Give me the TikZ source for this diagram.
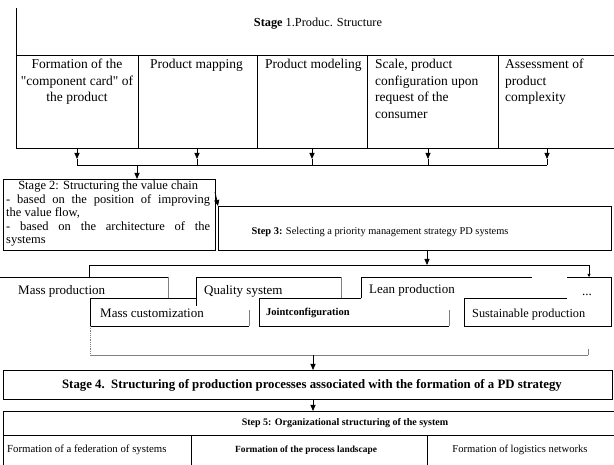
\documentclass[tikz,border=0pt]{standalone}
\usepackage{fontspec}
\setmainfont{Liberation Serif}
\usetikzlibrary{arrows.meta,calc}
\begin{document}
\begin{tikzpicture}[x=1pt,y=-1pt,
  ln/.style={draw=black,line width=0.8pt},
  gl/.style={draw=black!50,line width=0.8pt},
  arr/.style={draw=black,line width=0.8pt,-{Triangle[length=6pt,width=5pt]}},
  boxn/.style={draw=black,line width=0.8pt,inner sep=0pt,anchor=north west},
  big/.style={inner sep=0pt,font=\fontsize{13.5}{16.5}\selectfont},
  mid/.style={inner sep=0pt,font=\fontsize{13}{15}\selectfont},
  sml/.style={inner sep=0pt,font=\fontsize{10.5}{12}\selectfont},
]
\useasboundingbox (0,0) rectangle (614,465);

% ---------- Stage 1 ----------
\coordinate (s1top) at (16,8);
\node[boxn,minimum width=122pt,minimum height=93pt] (c1) at (16,55) {};
\node[boxn,minimum width=119pt,minimum height=93pt] (c2) at (138,55) {};
\node[boxn,minimum width=110pt,minimum height=93pt] (c3) at (257,55) {};
\node[boxn,minimum width=131pt,minimum height=93pt] (c4) at (367,55) {};
\node[boxn,minimum width=116pt,minimum height=93pt] (c5) at (498,55) {};
\draw[ln] (s1top) -- (c1.north west);
\node[inner sep=0pt,font=\fontsize{12.3}{14}\selectfont] (h1) at (318,24) {\textbf{Stage} 1.Produc. Structure};

\node[big,anchor=north,align=center] (t1) at (77,59) {Formation of the\\\textquotedbl component card\textquotedbl{} of\\the product};
\node[big,anchor=north west,align=left] (t2) at (150,59) {Product mapping};
\node[big,anchor=north west,align=left] (t3) at (265,59) {Product modeling};
\node[big,anchor=north west,align=left] (t4) at (375,59) {Scale, product\\configuration upon\\request of the\\consumer};
\node[big,anchor=north west,align=left] (t5) at (505,59) {Assessment of\\product\\complexity};

% arrows to bus 1
\foreach \i/\x in {1/77,2/197,3/312,4/428,5/547}{
  \coordinate (a\i) at (\x,148);
  \coordinate (m\i) at (\x,159);
  \coordinate (b\i) at (\x,165);
  \draw[arr] (a\i) -- (m\i);
  \draw[ln] (m\i) -- (b\i);
}
\draw[ln] (b1) -- (b5);

% ---------- Stage 2 ----------
\node[boxn,minimum width=212pt,minimum height=71pt] (s2) at (3,179) {};
\coordinate (bs2) at (137,165);
\draw[arr] (bs2) -- (s2.north -| bs2);
\node[inner sep=0pt,anchor=north west,text width=204pt,align=justify,
      font=\fontsize{12.5}{13.4}\selectfont] (s2t) at (6,181)
 {\makebox[204pt][c]{Stage 2: Structuring the value chain}\\
  - based on the position of improving\linebreak the value flow,\\
  - based on the architecture of the\linebreak systems};

% ---------- Step 3 ----------
\node[boxn,minimum width=393pt,minimum height=44pt] (s3) at (218,206) {};
\node[inner sep=0pt,font=\fontsize{10.4}{12}\selectfont] (s3t) at (380,232)
 {\textbf{Step 3:} Selecting a priority management strategy PD systems};
\coordinate (s2c) at (215,192);
\draw[arr] (s2c) -- (s3.north west);

% ---------- strategies ----------
\coordinate (s3b) at (427,250);
\coordinate (sb) at (427,265);
\draw[arr] (s3b) -- (sb);
\coordinate (sbl) at (89,265);
\coordinate (sbr) at (589,265);
\coordinate (sbld) at (89,277);
\coordinate (sbrd) at (589,277);
\draw[ln] (sbld) -- (sbl) -- (sbr);
\draw[draw=black,line width=0.6pt,-{Triangle[length=3pt,width=3pt]}] (sbr) -- (sbrd);

% Mass production
\draw[ln] (0,277) -- (168,277);
\draw[gl] (168,277) -- (168,298);
\node[mid,anchor=base west] (mp) at (18,295) {Mass production};
% Quality system
\draw[ln] (196,306) -- (196,277) -- (341,277);
\draw[gl] (341,277) -- (341,298);
\node[mid,anchor=base west] (qs) at (204,295) {Quality system};
% Mass customization
\draw[ln] (196,298) -- (90,298) -- (90,326) -- (249,326);
\draw[gl] (249,326) -- (249,310);
\node[mid,anchor=base west] (mc) at (100,318) {Mass customization};
% Joint configuration
\draw[ln] (361,298) -- (259,298) -- (259,326) -- (449,326);
\draw[gl] (449,326) -- (449,310);
\node[inner sep=0pt,font=\fontsize{10.5}{12}\bfseries\selectfont,anchor=base west] (jc) at (266,316) {Jointconfiguration};
% Lean production
\draw[ln] (361,298) -- (361,277) -- (532,277);
\node[mid,anchor=base west] (lp) at (369,294) {Lean production};
% ... and sustainable production
\draw[ln] (567,277) -- (611,277) -- (611,326) -- (464,326) -- (464,298) -- (567,298);
\node[mid,anchor=base west] (dd) at (582,296) {...};
\node[inner sep=0pt,font=\fontsize{12.3}{14}\selectfont,anchor=base west] (sp) at (472,318) {Sustainable production};

% bus 2
\coordinate (b2l) at (90,355);
\coordinate (b2r) at (588,355);
\coordinate (b2m) at (313,355);
\draw[gl,densely dotted] (90,326) -- (b2l);
\draw[gl] (b2l) -- (b2r);
\draw[draw=black!50,line width=0.5pt] (b2r) -- ++(0,-6);

% ---------- Stage 4 ----------
\node[boxn,minimum width=609pt,minimum height=29pt] (s4) at (3,370) {};
\draw[arr] (b2m) -- (s4.north -| b2m);
\node[inner sep=0pt,font=\fontsize{12.8}{14}\bfseries\selectfont] (s4t) at (312,385)
 {Stage 4.\ \ Structuring of production processes associated with the formation of a PD strategy};

% ---------- Step 5 ----------
\node[boxn,minimum width=611pt,minimum height=24pt] (s5) at (3,411) {};
\draw[arr] (s4.south -| b2m) -- (s5.north -| b2m);
\node[inner sep=0pt,font=\fontsize{10}{12}\bfseries\selectfont] (s5t) at (345,423)
 {Step 5: Organizational structuring of the system};
\node[boxn,minimum width=188pt,minimum height=31pt] (f1) at (3,435) {};
\node[boxn,minimum width=236pt,minimum height=31pt] (f2) at (191,435) {};
\node[boxn,minimum width=187pt,minimum height=31pt] (f3) at (427,435) {};
\node[inner sep=0pt,font=\fontsize{10.8}{12}\selectfont,anchor=west] (f1t) at (7,450) {Formation of a federation of systems};
\node[inner sep=0pt,font=\fontsize{9.4}{12}\bfseries\selectfont] (f2t) at (306,450) {Formation of the process landscape};
\node[inner sep=0pt,font=\fontsize{10.6}{12}\selectfont] (f3t) at (520,450) {Formation of logistics networks};
\end{tikzpicture}
\end{document}
